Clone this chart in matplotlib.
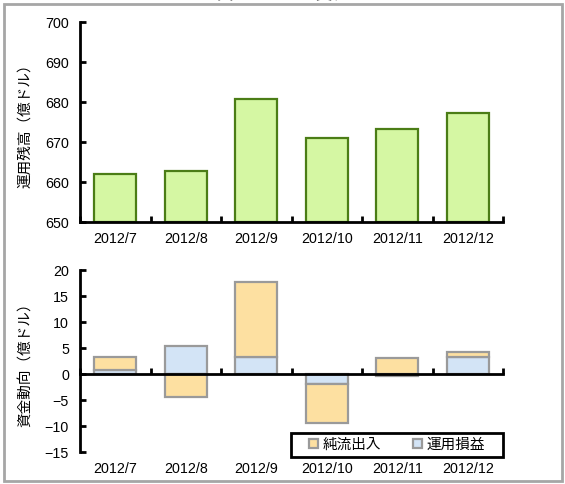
import matplotlib.pyplot as plt
import matplotlib.patches as mpatches
import numpy as np

plt.rcParams['font.family'] = ['Liberation Sans', 'Noto Sans CJK JP', 'DejaVu Sans']

# data
months = ['2012/7', '2012/8', '2012/9', '2012/10', '2012/11', '2012/12']
balance = [662.1, 662.8, 680.7, 671.1, 673.2, 677.2]
net_flow = [2.6, -4.4, 14.4, -7.4, 3.1, 1.1]     # 純流出入
pnl = [0.7, 5.4, 3.3, -2.0, -0.45, 3.2]          # 運用損益

W, H = 565, 484
fig = plt.figure(figsize=(W / 100, H / 100), dpi=100)

def fx(px):
    return px / W

def fy(py):
    return 1 - py / H

# outer frame and title (clipped at the top like the original)
fig.patches.append(mpatches.Rectangle((fx(4), fy(481)), fx(558), 477 / H,
                                      transform=fig.transFigure, fill=False,
                                      edgecolor='#a6a6a6', linewidth=2))
fig.text(fx(283), fy(-1.5), '資金フローの変化', ha='center', va='baseline', fontsize=12,
         family='Noto Sans CJK JP')

x = np.arange(len(months))
bw = 0.6
green_face = '#d5f7a3'
green_edge = '#4b7d16'
orange = '#fde0a1'
blue = '#d3e4f6'
gray = '#9a9a9a'
fs = 10.3
ylab_x = (25 - 80) / 423

# top chart
ax1 = fig.add_axes([fx(80), fy(222), fx(423), 200 / H])
ax1.bar(x, np.array(balance) - 650, bottom=650, width=bw, color=green_face,
        edgecolor=green_edge, linewidth=1.6)
ax1.set_xlim(-0.5, 5.5)
ax1.set_ylim(650, 700)
ax1.set_yticks(np.arange(650, 701, 10))
ax1.set_xticks(x)
ax1.set_xticklabels(months)
ax1.set_xticks(np.arange(-0.5, 5.6, 1), minor=True)
ax1.tick_params(axis='x', which='major', length=0, pad=7, labelsize=fs)
ax1.tick_params(axis='x', which='minor', direction='in', length=4, width=2)
ax1.tick_params(axis='y', direction='in', length=4, width=2, labelsize=fs, pad=8)
for s in ['top', 'right']:
    ax1.spines[s].set_visible(False)
for s in ['left', 'bottom']:
    ax1.spines[s].set_linewidth(2)
ax1.set_ylabel('運用残高（億ドル）', fontsize=10.5, va='center')
ax1.yaxis.set_label_coords(ylab_x, 0.5)

# bottom chart
ax2 = fig.add_axes([fx(80), fy(452), fx(423), 182 / H])
pnl = np.array(pnl)
net_flow = np.array(net_flow)
# stack: 運用損益 first, 純流出入 on top on the same side
flow_bottom = np.where(net_flow * pnl > 0, pnl, 0)
ax2.bar(x, pnl, width=bw, color=blue, edgecolor=gray, linewidth=1.6, label='運用損益')
ax2.bar(x, net_flow, bottom=flow_bottom, width=bw, color=orange, edgecolor=gray,
        linewidth=1.6, label='純流出入')
ax2.set_xlim(-0.5, 5.5)
ax2.set_ylim(-15, 20)
ax2.set_yticks(np.arange(-15, 21, 5))
ax2.spines['bottom'].set_position(('data', 0))
ax2.spines['bottom'].set_linewidth(2)
ax2.spines['left'].set_linewidth(2)
for s in ['top', 'right']:
    ax2.spines[s].set_visible(False)
ax2.set_xticks(np.arange(-0.5, 5.6, 1))
ax2.set_xticklabels([])
ax2.tick_params(axis='x', direction='in', length=4, width=2)
ax2.tick_params(axis='y', direction='in', length=4, width=2, labelsize=fs, pad=8)
for i, m in enumerate(months):
    ax2.text(i, -0.055, m, transform=ax2.get_xaxis_transform(), ha='center',
             va='top', fontsize=fs)
ax2.set_ylabel('資金動向（億ドル）', fontsize=10.5, va='center')
ax2.yaxis.set_label_coords(ylab_x, 0.5)

# legend: own frame box, entries centred inside
lx, ly, lw, lh = 0.499, -0.027, 0.501, 0.133
ax2.add_patch(mpatches.Rectangle((lx, ly), lw, lh, transform=ax2.transAxes,
                                 facecolor='white', edgecolor='black',
                                 linewidth=2, clip_on=False, zorder=5))
handles = [mpatches.Patch(facecolor=orange, edgecolor=gray, linewidth=1.6),
           mpatches.Patch(facecolor=blue, edgecolor=gray, linewidth=1.6)]
leg = ax2.legend(handles, ['純流出入', '運用損益'], ncol=2, loc='center',
                 bbox_to_anchor=(lx + lw / 2, ly + lh / 2),
                 prop={'family': 'Noto Sans CJK JP', 'size': 10.5},
                 frameon=False, handlelength=0.6, handleheight=0.6,
                 handletextpad=0.3, columnspacing=2.2, borderpad=0,
                 borderaxespad=0)
leg.set_zorder(6)

fig.savefig('out.png', dpi=100)
